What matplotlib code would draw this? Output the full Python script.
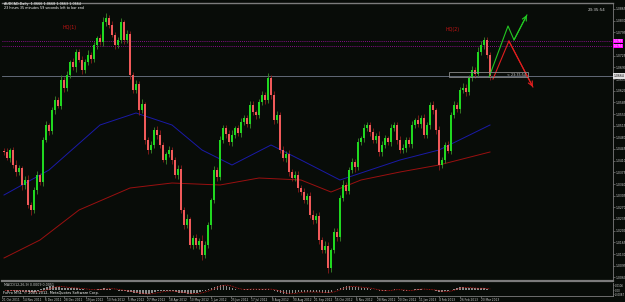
import matplotlib.pyplot as plt
from matplotlib.patches import Rectangle

# AUDCAD daily candles (one candle ~ two trading days)
first_open = 1.0440
closes = [
    1.0436, 1.0418, 1.0442, 1.0397, 1.0376, 1.0388, 1.0337, 1.0352, 1.0277, 1.0262,
    1.0322, 1.0367, 1.0345, 1.0472, 1.0517, 1.0498, 1.0562, 1.0592, 1.0575, 1.0652,
    1.0628, 1.0667, 1.0706, 1.0690, 1.0736, 1.0712, 1.0682, 1.0706, 1.0728, 1.0716,
    1.0757, 1.0778, 1.0765, 1.0826, 1.0838, 1.0817, 1.0787, 1.0757, 1.0772, 1.0826,
    1.0772, 1.0790, 1.0667, 1.0622, 1.0640, 1.0562, 1.0580, 1.0472, 1.0442, 1.0457,
    1.0502, 1.0487, 1.0457, 1.0412, 1.0430, 1.0442, 1.0412, 1.0367, 1.0385, 1.0262,
    1.0217, 1.0235, 1.0157, 1.0178, 1.0157, 1.0170, 1.0127, 1.0157, 1.0217, 1.0292,
    1.0382, 1.0362, 1.0472, 1.0508, 1.0490, 1.0466, 1.0487, 1.0508, 1.0492, 1.0526,
    1.0538, 1.0520, 1.0577, 1.0556, 1.0547, 1.0586, 1.0607, 1.0592, 1.0658, 1.0607,
    1.0532, 1.0548, 1.0442, 1.0418, 1.0430, 1.0376, 1.0358, 1.0368, 1.0328, 1.0316,
    1.0292, 1.0305, 1.0247, 1.0232, 1.0244, 1.0172, 1.0142, 1.0155, 1.0088, 1.0142,
    1.0196, 1.0180, 1.0298, 1.0337, 1.0320, 1.0382, 1.0406, 1.0390, 1.0466, 1.0478,
    1.0508, 1.0517, 1.0496, 1.0472, 1.0485, 1.0436, 1.0457, 1.0478, 1.0466, 1.0508,
    1.0517, 1.0472, 1.0442, 1.0448, 1.0472, 1.0460, 1.0517, 1.0532, 1.0520, 1.0538,
    1.0487, 1.0517, 1.0577, 1.0562, 1.0502, 1.0397, 1.0412, 1.0457, 1.0440, 1.0547,
    1.0577, 1.0565, 1.0622, 1.0628, 1.0615, 1.0658, 1.0682, 1.0670, 1.0736, 1.0757,
    1.0772, 1.0727, 1.0664,
]
# wick lengths in pips
upper_wick = [
    8, 12, 6, 10, 14, 9, 7, 12, 15, 10, 8, 11, 6, 9, 13, 7, 10, 12, 8, 14,
    9, 11, 7, 13, 10, 8, 12, 9, 15, 7, 10, 6, 11, 14, 16, 8, 12, 10, 9, 13,
    7, 11, 10, 8, 12, 9, 14, 6, 10, 12, 8, 11, 15, 9, 7, 13, 10, 8, 12, 11,
    9, 14, 7, 10, 12, 8, 16, 11, 9, 7, 13, 10, 12, 8, 9, 11, 14, 6, 10, 12,
    9, 8, 13, 11, 7, 10, 12, 9, 14, 8, 11, 10, 7, 12, 9, 13, 8, 10, 11, 9,
    12, 7, 10, 14, 8, 11, 9, 13, 10, 7, 12, 11, 8, 15, 9, 10, 12, 8, 11, 7,
    13, 9, 10, 12, 8, 14, 11, 9, 7, 12, 10, 8, 13, 11, 9, 10, 12, 7, 14, 8,
    11, 10, 9, 13, 7, 12, 10, 8, 11, 9, 12, 10, 8, 14, 13, 9, 11, 10, 16, 12,
    9, 8, 10,
]
lower_wick = [
    10, 7, 13, 9, 11, 8, 14, 12, 10, 16, 9, 12, 8, 10, 7, 11, 9, 13, 8, 10,
    12, 8, 10, 9, 13, 7, 11, 10, 8, 12, 9, 11, 8, 10, 12, 9, 7, 13, 10, 8,
    11, 9, 12, 8, 10, 14, 9, 11, 13, 8, 10, 12, 9, 7, 11, 10, 13, 8, 12, 9,
    11, 10, 8, 13, 9, 12, 15, 10, 8, 11, 9, 12, 10, 8, 11, 9, 13, 10, 7, 12,
    10, 8, 11, 9, 12, 10, 8, 13, 9, 11, 12, 9, 10, 8, 11, 13, 9, 10, 12, 8,
    10, 11, 9, 12, 8, 13, 10, 9, 16, 11, 9, 12, 10, 8, 11, 10, 9, 13, 8, 10,
    11, 9, 12, 10, 8, 11, 13, 9, 10, 12, 9, 11, 8, 10, 12, 9, 13, 10, 8, 11,
    10, 9, 12, 11, 13, 16, 9, 10, 8, 11, 9, 10, 12, 8, 11, 9, 10, 12, 8, 10,
    11, 9, 12,
]

# moving averages (candle index, price)
blue_ma_idx = [0, 15, 32, 44, 56, 66, 76, 89, 99, 112, 122, 132, 145, 162]
blue_ma = [1.0307, 1.0382, 1.0517, 1.0553, 1.0517, 1.0442, 1.0397, 1.0457,
           1.0412, 1.0352, 1.0382, 1.0412, 1.0442, 1.0517]
red_ma_idx = [0, 12, 25, 42, 56, 72, 85, 99, 109, 119, 132, 145, 162]
red_ma = [1.0118, 1.0172, 1.0262, 1.0328, 1.0343, 1.0337, 1.0358, 1.0352,
          1.0316, 1.0352, 1.0376, 1.0397, 1.0436]

# MACD histogram and signal, in pips
macd_pips = [
    -5, -7, -8, -10, -13, -18, -28, -38, -45, -42, -28, -10, 20, 50, 70, 80, 80, 75,
    68, 55, 45, 42, 44, 42, 35, 22, 15, 10, 6, 6, 12, 22, 34, 38, 34, 25,
    10, -3, -6, -8, -18, -30, -40, -50, -65, -80, -85, -82, -72, -55, -38, -26, -22, -18,
    -14, -16, -25, -38, -47, -52, -65, -78, -80, -65, -52, -40, -26, -6, 18, 42, 72, 95,
    108, 108, 92, 62, 38, 22, 12, 10, 17, 25, 22, 18, 16, 19, 22, 25, 24, 12,
    -8, -32, -55, -72, -80, -75, -60, -48, -40, -36, -35, -36, -37, -38, -41, -46, -49, -51,
    -48, -30, -5, 23, 50, 70, 82, 80, 72, 64, 56, 50, 48, 42, 28, 12, -3, -12,
    -15, -11, 0, 11, 16, 10, -2, -8, -7, -3, 6, 18, 28, 25, 12, 10, 12, 5,
    -15, -32, -30, -22, -16, 0, 28, 55, 64, 57, 47, 40, 36, 37, 39, 41, 36, 22, 6,
]
signal_pips = [
    -3, -4, -5, -6, -8, -10, -14, -20, -27, -33, -35, -32, -22, -8, 10, 30, 50, 65,
    74, 74, 68, 60, 52, 47, 44, 40, 34, 26, 18, 12, 10, 10, 14, 20, 27, 32,
    30, 24, 14, 5, -3, -12, -22, -32, -42, -54, -66, -75, -78, -74, -63, -50, -38, -28,
    -20, -17, -18, -24, -32, -40, -48, -58, -68, -72, -70, -62, -50, -35, -15, 8, 35, 60,
    82, 98, 104, 96, 78, 55, 36, 22, 16, 17, 20, 22, 21, 19, 19, 21, 22, 20,
    12, -2, -22, -42, -60, -72, -72, -64, -53, -44, -39, -36, -36, -37, -38, -40, -43, -47,
    -48, -44, -32, -12, 12, 38, 58, 72, 76, 74, 68, 61, 55, 50, 43, 32, 18, 5,
    -5, -10, -9, -3, 6, 12, 10, 4, -3, -6, -3, 4, 14, 22, 22, 18, 13, 9,
    2, -10, -22, -28, -26, -16, 0, 22, 42, 55, 57, 52, 46, 41, 39, 39, 39, 35, 25,
]

price_labels = [1.0865, 1.0830, 1.0795, 1.0760, 1.0725, 1.0690, 1.0655, 1.0620,
                1.0585, 1.0550, 1.0515, 1.0480, 1.0445, 1.0410, 1.0375, 1.0340,
                1.0305, 1.0270, 1.0235, 1.0200, 1.0165, 1.0130, 1.0095, 1.0060]
date_labels = ['21 Oct 2011', '14 Nov 2011', '6 Dec 2011', '28 Dec 2011', '19 Jan 2012',
               '10 Feb 2012', '5 Mar 2012', '27 Mar 2012', '18 Apr 2012', '10 May 2012',
               '1 Jun 2012', '25 Jun 2012', '17 Jul 2012', '8 Aug 2012', '30 Aug 2012',
               '21 Sep 2012', '15 Oct 2012', '6 Nov 2012', '28 Nov 2012', '20 Dec 2012',
               '11 Jan 2013', '4 Feb 2013', '26 Feb 2013', '20 Mar 2013']
date_idx = [-1.0, 6.0, 13.3, 19.7, 27.0, 34.0, 41.0, 47.3, 54.7, 61.7, 68.7, 75.3,
            82.3, 89.3, 96.3, 103.3, 110.3, 117.3, 124.3, 131.3, 138.3, 145.0, 152.0, 159.0]

# chart objects
levels = [1.0769, 1.0754]
bid = 1.0664
green_path_x = [161.7, 168.0, 170.0, 174.3]
green_path_y = [1.0661, 1.0814, 1.0772, 1.0847]
red_path_x = [163.0, 168.3, 176.3]
red_path_y = [1.0655, 1.0769, 1.0631]

BG = '#080c08'
GRID = '#7c7c7c'
TXT = '#d0d0d0'

fig = plt.figure(figsize=(6.25, 3.02), dpi=100, facecolor=BG)
ax = fig.add_axes([2 / 625, 1 - 281 / 302, 611 / 625, 278 / 302], facecolor=BG)
mx = fig.add_axes([2 / 625, 1 - 295.5 / 302, 611 / 625, 12.5 / 302], facecolor=BG)

n = len(closes)
idx = list(range(n))
opens = [first_open] + closes[:-1]
highs = [max(o, c) + u * 0.0001 for o, c, u in zip(opens, closes, upper_wick)]
lows = [min(o, c) - l * 0.0001 for o, c, l in zip(opens, closes, lower_wick)]
up = [c >= o for o, c in zip(opens, closes)]

# moving averages
ax.plot(red_ma_idx, red_ma, color='#9a1010', lw=0.7, zorder=1)
ax.plot(blue_ma_idx, blue_ma, color='#1a1aa8', lw=0.7, zorder=1)

# candles
wick_cols = ['#3c8a2a' if u else '#8c1c1c' for u in up]
body_cols = ['#20d820' if u else '#f05a5a' for u in up]
ax.vlines(idx, lows, highs, colors=wick_cols, lw=0.6, zorder=2)
ax.bar(idx, [max(abs(c - o), 0.00012) for o, c in zip(opens, closes)],
       bottom=[min(o, c) for o, c in zip(opens, closes)],
       width=0.5, color=body_cols, lw=0, zorder=3)

# horizontal levels
for lv in levels:
    ax.axhline(lv, color='#b010b0', lw=0.6, ls=(0, (1, 1.5)), zorder=1)
    ax.text(1.001, lv, '%.4f' % lv, transform=ax.get_yaxis_transform(), fontsize=1.9,
            color='white', va='center', ha='left',
            bbox=dict(boxstyle='square,pad=0.1', fc='#ff00ff', ec='none'))
ax.axhline(bid, color='#707888', lw=0.6, zorder=1)
ax.text(1.001, bid, '%.4f' % bid, transform=ax.get_yaxis_transform(), fontsize=2.2,
        color='black', va='center', ha='left',
        bbox=dict(boxstyle='square,pad=0.2', fc='#e0e0e0', ec='none'))

# zigzag arrows
ax.plot(green_path_x, green_path_y, color='#22c822', lw=0.8, zorder=4)
ax.annotate('', xy=(green_path_x[-1], green_path_y[-1]),
            xytext=(green_path_x[-2], green_path_y[-2]),
            arrowprops=dict(arrowstyle='->', color='#22c822', lw=0.8,
                            mutation_scale=8, shrinkA=0, shrinkB=0))
ax.plot(red_path_x, red_path_y, color='#e01e1e', lw=0.8, zorder=4)
ax.annotate('', xy=(red_path_x[-1], red_path_y[-1]),
            xytext=(red_path_x[-2], red_path_y[-2]),
            arrowprops=dict(arrowstyle='->', color='#e01e1e', lw=0.8,
                            mutation_scale=8, shrinkA=0, shrinkB=0))

# countdown box
ax.add_patch(Rectangle((148.3, 1.0661), 26.4, 0.0015, fill=False, ec='#8a8a8a', lw=0.6, zorder=4))
ax.text(174.0, 1.0668, '< 23:35:54', fontsize=2.4, color=TXT, ha='right', va='center', zorder=5)

# labels on chart
ax.text(19.5, 1.0811, 'HQ(1)', fontsize=3.4, color='#c81414', ha='left', va='center')
ax.text(147.0, 1.0805, 'HQ(2)', fontsize=3.4, color='#c81414', ha='left', va='center')

ax.set_xlim(-0.67, 203.0)
ax.set_ylim(1.0049, 1.0883)
ax.set_xticks([])
ax.yaxis.tick_right()
ax.set_yticks(price_labels)
# the label under the two level boxes is hidden by them in the terminal
ax.set_yticklabels(['' if min(abs(p - lv) for lv in levels) < 0.0012 else '%.4f' % p
                    for p in price_labels])
ax.tick_params(axis='y', labelsize=2.2, colors=GRID, labelcolor=TXT, length=1.2, width=0.5, pad=0.6)
ax.spines['left'].set_visible(False)
ax.spines['top'].set_color(GRID)
ax.spines['top'].set_linewidth(1.0)
ax.spines['right'].set_color(GRID)
ax.spines['right'].set_linewidth(0.6)
ax.spines['bottom'].set_color(GRID)
ax.spines['bottom'].set_linewidth(1.6)

# MACD panel
macd = [m * 0.0001 for m in macd_pips]
signal = [s * 0.0001 for s in signal_pips]
mx.bar(idx, macd, width=0.55, color='#8c8c8c', lw=0)
mx.plot(idx, signal, color='#d01818', lw=0.6, ls=(0, (1, 1)))
mx.set_xlim(-0.67, 203.0)
mx.set_ylim(-0.0108, 0.0147)
mx.yaxis.tick_right()
mx.set_yticks([0.0106, 0.0, -0.0087])
mx.set_yticklabels(['0.0106', '0.00', '-0.0087'])
mx.tick_params(axis='y', labelsize=1.9, colors=GRID, labelcolor=TXT, length=1.0, width=0.5, pad=0.4)
mx.set_xticks(date_idx)
mx.set_xticklabels(date_labels, ha='left')
mx.tick_params(axis='x', labelsize=2.1, colors=GRID, labelcolor=TXT, length=1.5, width=0.5, pad=0.5)
mx.spines['left'].set_visible(False)
mx.spines['top'].set_visible(False)
for s in ['right', 'bottom']:
    mx.spines[s].set_color(GRID)
    mx.spines[s].set_linewidth(0.6)
mx.text(0.003, 0.86, 'MACD(12,26,9) 0.0009 0.0051', transform=mx.transAxes,
        fontsize=2.3, color=TXT, va='center')

# header and footer texts
fig.text(4 / 625, 1 - 4 / 302, 'AUDCAD,Daily  1.0666 1.0668 1.0663 1.0664',
         fontsize=2.4, color='white', va='center')
fig.text(4 / 625, 1 - 8 / 302, '23 hours 35 minutes 59 seconds left to bar end',
         fontsize=2.4, color='white', va='center')
fig.text(597 / 625, 1 - 10 / 302, '23:35:54', fontsize=2.9, color=TXT, va='center', ha='center')
fig.text(3 / 625, 1 - 293 / 302, 'FxPro MT4, \u00a9 2001-2012, MetaQuotes Software Corp.',
         fontsize=2.5, color='white', va='center')

fig.savefig('out.png', dpi=100, facecolor=BG)
